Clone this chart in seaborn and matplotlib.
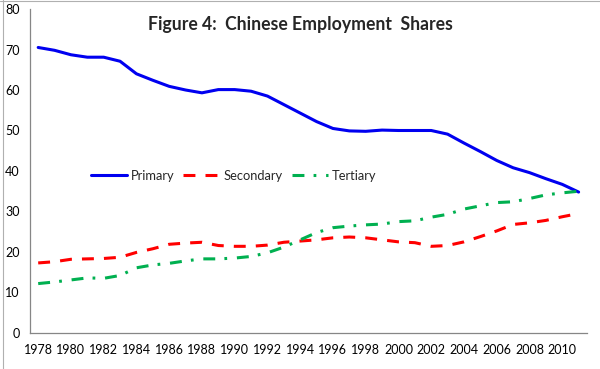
import numpy as np
import pandas as pd
import matplotlib
matplotlib.use("Agg")
import matplotlib.pyplot as plt
from matplotlib.lines import Line2D
import seaborn as sns

years = list(range(1978, 2012))
primary = [70.5, 69.8, 68.7, 68.1, 68.1, 67.1, 64.0, 62.4, 60.9, 60.0, 59.3, 60.1,
           60.1, 59.7, 58.5, 56.4, 54.3, 52.2, 50.5, 49.9, 49.8, 50.1, 50.0, 50.0,
           50.0, 49.1, 46.9, 44.8, 42.6, 40.8, 39.6, 38.1, 36.7, 34.8]
secondary = [17.3, 17.6, 18.2, 18.3, 18.4, 18.7, 19.9, 20.8, 21.9, 22.2, 22.4, 21.6,
             21.4, 21.4, 21.7, 22.4, 22.7, 23.0, 23.5, 23.7, 23.5, 23.0, 22.5, 22.3,
             21.4, 21.6, 22.5, 23.8, 25.2, 26.8, 27.2, 27.8, 28.7, 29.5]
tertiary = [12.2, 12.6, 13.1, 13.6, 13.5, 14.2, 16.1, 16.8, 17.2, 17.8, 18.3, 18.3,
            18.5, 18.9, 19.8, 21.2, 23.0, 24.8, 26.0, 26.4, 26.7, 26.9, 27.5, 27.7,
            28.6, 29.3, 30.6, 31.4, 32.2, 32.4, 33.2, 34.1, 34.6, 35.0]

df = pd.DataFrame({"Year": years, "Primary": primary,
                   "Secondary": secondary, "Tertiary": tertiary})

sns.set_style("white")
plt.rcParams['font.family'] = ['Lato', 'DejaVu Sans']

fig = plt.figure(figsize=(6, 3.69), dpi=100)
ax = fig.add_axes([0.05, 0.0976, 0.928, 0.878])

lw = 2.2
sns.lineplot(data=df, x="Year", y="Primary", ax=ax, color="#0000f0",
             linewidth=lw, label="Primary")
sns.lineplot(data=df, x="Year", y="Secondary", ax=ax, color="#ff0000",
             linewidth=lw, linestyle=(0, (3.9, 3.3)), label="Secondary")
sns.lineplot(data=df, x="Year", y="Tertiary", ax=ax, color="#00b050",
             linewidth=lw, linestyle=(0, (3.9, 3.0, 0.9, 3.2)), label="Tertiary")

ax.set_xlim(1977.5, 2011.5)
ax.set_ylim(0, 80)
ax.set_xticks(range(1978, 2011, 2))
ax.set_xticks(np.arange(1977.5, 2012, 1), minor=True)
ax.set_yticks(range(0, 81, 10))
ax.set_xlabel("")
ax.set_ylabel("")

for side in ["top", "right"]:
    ax.spines[side].set_visible(False)
for side in ["left", "bottom"]:
    ax.spines[side].set_color("#868686")
    ax.spines[side].set_linewidth(0.9)

ax.tick_params(axis="x", which="major", length=0, pad=8, labelsize=9, colors="black")
ax.tick_params(axis="x", which="minor", length=4, width=0.9, color="#868686", direction="out")
ax.tick_params(axis="y", length=4, width=0.9, color="#868686", direction="out",
               pad=3.5, labelsize=9, labelcolor="black")
ax.minorticks_on()
ax.yaxis.set_minor_locator(matplotlib.ticker.NullLocator())

leg = ax.legend(loc="center", bbox_to_anchor=(0.389, 0.523), bbox_transform=fig.transFigure,
                ncol=3, frameon=False, fontsize=9.3, handlelength=2.8,
                handletextpad=0.3, columnspacing=0.7)

fig.text(0.5, 0.919, "Figure 4:  Chinese Employment  Shares", ha="center", va="baseline",
         fontsize=12.7, fontweight="bold")

fig.add_artist(Line2D([2.5 / 600, 2.5 / 600], [0, 1], transform=fig.transFigure,
                      color="#b0b0b0", linewidth=0.8))
fig.add_artist(Line2D([0, 1], [1 - 0.8 / 369, 1 - 0.8 / 369], transform=fig.transFigure,
                      color="#b0b0b0", linewidth=0.8))

fig.savefig("out.png", dpi=100)
